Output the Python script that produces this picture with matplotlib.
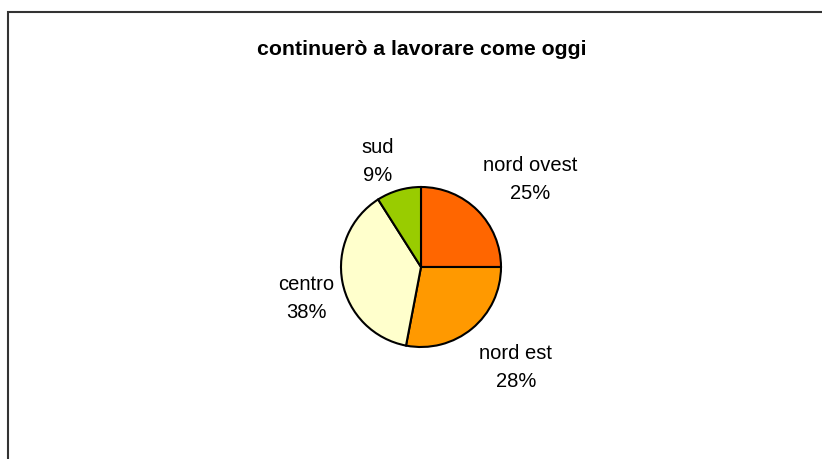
import numpy as np
import matplotlib
matplotlib.use("Agg")
import matplotlib.pyplot as plt
from matplotlib.patches import Rectangle

plt.rcParams['font.family'] = ['Liberation Sans', 'DejaVu Sans']

title = "continuerò a lavorare come oggi"
regions = ["nord ovest", "nord est", "centro", "sud"]
shares = [25, 28, 38, 9]
colors = ["#FF6600", "#FF9900", "#FFFFCC", "#99CC00"]
# label distance from centre (in radii) and angle nudge (deg), one per slice
label_dist = [1.76, 1.72, 1.48, 1.44]
label_nudge = [-6, 4, 4, 6]

W, H = 822, 460
fig = plt.figure(figsize=(W / 100, H / 100), dpi=100)
ax = fig.add_axes([0, 0, 1, 1])

# data units == pixels, pie centre at (421, 268) from the top-left
cx, cy = 421, 268
ax.set_xlim(-cx, W - cx)
ax.set_ylim(-(H - cy), cy)
ax.set_aspect('equal')
ax.axis('off')

r = 80
wedges, _ = ax.pie(shares, colors=colors, startangle=90, counterclock=False,
                   radius=r, center=(0, 0), frame=False,
                   wedgeprops=dict(edgecolor='black', linewidth=1.5))
ax.set_xlim(-cx, W - cx)
ax.set_ylim(-(H - cy), cy)

for w, name, val, d, nud in zip(wedges, regions, shares, label_dist, label_nudge):
    mid = np.deg2rad((w.theta1 + w.theta2) / 2 + nud)
    ax.text(d * r * np.cos(mid), d * r * np.sin(mid), f"{name}\n{val}%",
            ha='center', va='center', fontsize=14.5, linespacing=1.62)

fig.text(422 / W, 1 - 55 / H, title, ha='center', va='baseline',
         fontsize=15.3, fontweight='bold')

# chart area border (runs off the right and bottom edges)
fig.patches.append(Rectangle((8 / W, -0.1), 1.0, 1 - 13 / H + 0.1,
                             transform=fig.transFigure, fill=False,
                             edgecolor='#333333', linewidth=1.5))

fig.savefig("out.png", dpi=100)
